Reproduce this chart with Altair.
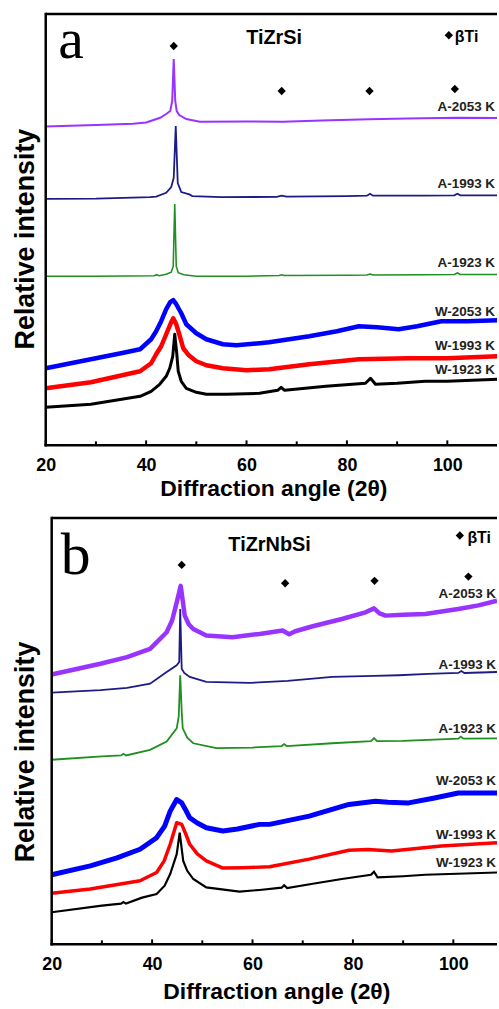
import altair as alt
import pandas as pd

SANS = "Liberation Sans"
SERIF = "Liberation Serif"

# ---------------- Panel (a): TiZrSi ----------------
a_A2053_x = [20, 30, 37.4, 40, 42.8, 44, 44.8, 45.2, 45.5, 45.8, 46.1, 46.6, 48, 50.7, 60, 67.2, 75, 84.4, 92, 102.2, 110]
a_A2053_y = [318.5, 320, 321.3, 322.5, 327.3, 331, 334, 344, 386, 344, 334, 330, 326, 323.3, 323.5, 323.3, 324.5, 325.7, 326.5, 327.3, 327]

a_A1993_x = [20, 30, 40.8, 42, 44, 45, 45.5, 45.9, 46.3, 47, 48.6, 49.2, 55, 66, 67, 68, 80, 84, 84.6, 85.2, 95, 101.4, 102, 102.6, 110]
a_A1993_y = [246.3, 246.5, 248, 248.5, 252.3, 258, 267.3, 319, 262, 253, 250.7, 249, 248, 248.2, 249.4, 248.4, 249, 249.4, 251.3, 249.4, 249.5, 249.7, 251.3, 249.7, 249.7]

a_A1923_x = [20, 30, 41.6, 42.1, 42.6, 44, 45, 45.4, 45.7, 46.0, 46.4, 47.5, 50, 60, 66.5, 67, 67.5, 80, 84, 84.6, 85.2, 95, 101.4, 102, 102.6, 110]
a_A1923_y = [169, 169, 169.5, 170.5, 169.5, 171, 173, 179, 241, 179, 172.5, 170.5, 169, 169, 169.7, 170.4, 169.7, 170, 170.2, 171.2, 170.2, 170.5, 170.7, 172.2, 170.7, 170.7]

a_W2053_x = [20, 29, 35, 38.8, 41, 42, 43, 44, 44.8, 45.4, 46, 47, 48, 50, 52, 55.3, 58, 62.6, 64.5, 72.5, 78, 82.4, 86, 90.3, 94, 98.8, 104, 110]
a_W2053_y = [77, 86, 92, 96, 106, 114, 124, 136, 143, 145, 141, 132, 121, 112, 106, 101, 100, 102, 103, 109, 114, 119, 118, 116, 119, 124, 124, 125]

a_W1993_x = [20, 29, 38.8, 41, 42, 43, 44, 45, 45.4, 46, 46.6, 47.4, 48.5, 50, 52, 55.3, 60, 64.5, 72.5, 82.4, 92.3, 100, 110]
a_W1993_y = [57, 63, 74, 82, 91, 99, 111, 123, 127, 121, 111, 97, 90, 84, 80, 77, 75, 76, 81, 86, 87, 87, 89]

a_W1923_x = [20, 29, 38.8, 41, 42.7, 44, 44.7, 45.3, 45.7, 46.1, 46.4, 47, 48, 50, 52, 56, 62.6, 66.2, 66.9, 67.6, 75.8, 83.7, 84.7, 85.7, 90, 95.6, 100, 110]
a_W1923_y = [38, 41, 49, 54, 61, 69, 77, 89, 111, 92, 74, 64, 57, 53, 51, 51, 52, 55, 58, 55, 59, 62, 67, 61, 62, 64, 64, 66]

a_label_text = ["A-2053 K", "A-1993 K", "A-1923 K", "W-2053 K", "W-1993 K", "W-1923 K"]
a_label_y = [338, 261, 182, 133, 99, 75]
a_peak_x = [45.5, 67, 84.5, 101.5]
a_peak_y = [399, 354, 354, 356]

# ---------------- Panel (b): TiZrNbSi ----------------
b_A2053_x = [20, 29.7, 35, 39.6, 42.9, 44, 44.9, 45.7, 46.5, 47.3, 48.2, 50.8, 56, 61.4, 66, 67.3, 68.5, 72, 77.8, 82.5, 84.2, 85.3, 86.5, 90, 94.4, 101, 105, 108.7]
b_A2053_y = [271.5, 282.3, 289, 297.3, 314, 326, 344, 360.7, 330.7, 322, 317.3, 310.7, 309, 312.3, 315.7, 312, 315, 320, 327.3, 334, 338, 333, 330.7, 331.5, 332.3, 337.3, 341, 345.7]

b_A1993_x = [20, 29.7, 35, 39.6, 42.9, 44.9, 45.4, 45.6, 45.9, 46.4, 47.5, 50.8, 59.4, 67, 75.9, 84.2, 89.1, 95, 101, 101.6, 102.2, 108.7]
b_A1993_y = [253.3, 255.7, 258, 262.3, 274, 280.7, 284, 337.3, 277.3, 273, 269, 264, 263, 265, 269, 270, 270.7, 272, 273, 275, 273, 274]

b_A1923_x = [20, 30, 33.8, 34.3, 34.8, 39.6, 42.9, 44.9, 45.3, 45.6, 45.9, 46.1, 47, 48.2, 52.8, 60, 65.8, 66.3, 66.8, 75.9, 83.6, 84.2, 84.8, 90, 101, 101.5, 102, 108.7]
b_A1923_y = [185.7, 189, 190, 191.7, 190, 195.7, 204, 217.3, 229, 270.7, 234, 217.3, 208, 202.3, 197.3, 198, 199.5, 201.5, 199.5, 202.3, 204.5, 207.5, 204.5, 204.7, 207, 209, 207, 207.3]

b_W2053_x = [20, 27.7, 33, 37.6, 40.9, 42.5, 43.6, 44.9, 45.9, 46.6, 47.5, 49, 50.8, 54.1, 57, 61.4, 63.4, 71.3, 79.2, 84.5, 87, 91.1, 96, 101, 108.7]
b_W2053_y = [70, 79, 87, 95.7, 107.3, 119, 134, 145.7, 142.3, 136, 127.3, 122, 117.3, 114, 116, 120.7, 120.7, 129, 140.7, 144, 143, 142.3, 147, 152.3, 152.3]

b_W1993_x = [20, 27.7, 37.6, 40.9, 42.4, 43.6, 44.9, 45.9, 46.7, 47.5, 49, 50.8, 54.1, 58, 63.4, 71.3, 79.2, 83, 87.7, 97.6, 108.7]
b_W1993_y = [51.3, 55.7, 64, 72.3, 84, 100.7, 122.3, 120.7, 111, 100.7, 91, 84, 76.7, 77, 78, 85.7, 94.7, 95.5, 94, 99, 102.3]

b_W1923_x = [20, 30, 33.8, 34.3, 34.8, 38, 40.9, 42.5, 43.6, 44.9, 45.5, 46.2, 47, 48.2, 50.8, 57.4, 61.4, 65.8, 66.3, 66.9, 72, 77.8, 83.6, 84.2, 84.9, 90, 94.4, 108.7]
b_W1923_y = [32.3, 39, 41, 42.5, 41, 47, 50.7, 59, 70.7, 90.7, 112.3, 84, 74, 65.7, 57.3, 53, 54.7, 57, 59.5, 56.7, 61, 65.7, 70, 73, 67.3, 68.5, 70, 72.3]

b_label_text = ["A-2053 K", "A-1993 K", "A-1923 K", "W-2053 K", "W-1993 K", "W-1923 K"]
b_label_y = [352, 281, 217, 164, 110, 82]
b_peak_x = [45.9, 66.5, 84.3, 103]
b_peak_y = [381.7, 363.3, 365.7, 370]

# colours per curve
COLORS = {"A-2053": "#9933ff", "A-1993": "#1c1c84", "A-1923": "#1f8f1f",
          "W-2053": "#0000ff", "W-1993": "#ff0000", "W-1923": "#000000"}

MAJOR_TICKS = [20, 40, 60, 80, 100]
MINOR_TICKS = [30, 50, 70, 90]
WIDTH = 454


def panel(curves, widths, label_text, label_y, label_x, peak_x, peak_y,
          name, name_xy, letter, letter_size, letter_xy, key_xy, text_xy,
          xmax, inset, ymax, height, ytitle_y, xtitle_pad):
    # the plotting frame starts `inset` pixels right of the view origin
    xs = alt.Scale(domain=[20, xmax], range=[inset, WIDTH], nice=False, zero=False)
    ys = alt.Scale(domain=[0, ymax], nice=False, zero=False)

    x_axis = alt.Axis(title="Diffraction angle (2θ)", values=MAJOR_TICKS, format="d",
                      ticks=False, grid=False, domain=False,
                      labelFont=SANS, labelFontSize=18, labelFontWeight="bold",
                      labelColor="black", labelPadding=11, labelFlush=False,
                      titleFont=SANS, titleFontSize=23, titleFontWeight="bold",
                      titleColor="black", titlePadding=xtitle_pad,
                      titleX=inset + (WIDTH - inset) / 2 + 2)
    y_axis = alt.Axis(title="Relative intensity", labels=False, ticks=False, grid=False,
                      domain=False,
                      titleFont=SANS, titleFontSize=27, titleFontWeight="bold",
                      titleColor="black", titlePadding=6, titleY=ytitle_y)

    def X(field):
        return alt.X(field, scale=xs, axis=x_axis)

    def Y(field):
        return alt.Y(field, scale=ys, axis=y_axis)

    layers = []
    for key, (cx, cy) in curves.items():
        df = pd.DataFrame({"x": cx, "y": cy})
        layers.append(
            alt.Chart(df).mark_line(color=COLORS[key], strokeWidth=widths[key], clip=True,
                                    strokeJoin="round" if widths[key] > 2.5 else "miter")
            .encode(x=X("x:Q"), y=Y("y:Q"))
        )

    # frame: top, left and bottom lines
    frame = pd.DataFrame({"k": [0]})
    layers.append(
        alt.Chart(frame).mark_rule(color="black", strokeWidth=2.5)
        .encode(x=alt.value(inset), x2=alt.value(WIDTH), y=alt.value(0))
    )
    layers.append(
        alt.Chart(frame).mark_rule(color="black", strokeWidth=2.5)
        .encode(x=alt.value(inset - 1.2), x2=alt.value(WIDTH), y=alt.value(height))
    )
    layers.append(
        alt.Chart(frame).mark_rule(color="black", strokeWidth=2.5)
        .encode(x=alt.value(inset), y=alt.value(-1.2), y2=alt.value(height + 1.2))
    )
    # inward ticks on the bottom axis
    major = pd.DataFrame({"x": MAJOR_TICKS})
    minor = pd.DataFrame({"x": MINOR_TICKS})
    layers.append(
        alt.Chart(major).mark_rule(color="black", strokeWidth=2)
        .encode(x=X("x:Q"), y=alt.value(height), y2=alt.value(height - 5))
    )
    layers.append(
        alt.Chart(minor).mark_rule(color="black", strokeWidth=2)
        .encode(x=X("x:Q"), y=alt.value(height), y2=alt.value(height - 4))
    )
    # curve labels
    labels = pd.DataFrame({"x": [label_x] * len(label_text), "y": label_y, "text": label_text})
    layers.append(
        alt.Chart(labels).mark_text(align="right", baseline="middle", font=SANS, fontSize=13.5,
                                    fontWeight="bold", color="#222222", clip=True)
        .encode(x=X("x:Q"), y=Y("y:Q"), text="text:N")
    )
    # beta-Ti reflections and key symbol
    peaks = pd.DataFrame({"x": peak_x + [key_xy[0]], "y": peak_y + [key_xy[1]]})
    layers.append(
        alt.Chart(peaks).mark_point(shape="diamond", filled=True, color="black", size=70, opacity=1)
        .encode(x=X("x:Q"), y=Y("y:Q"))
    )
    key_text = pd.DataFrame({"x": [text_xy[0]], "y": [text_xy[1]], "text": ["βTi"]})
    layers.append(
        alt.Chart(key_text).mark_text(align="left", baseline="alphabetic", font=SANS, fontSize=16,
                                      fontWeight="bold", color="black", clip=True)
        .encode(x=X("x:Q"), y=Y("y:Q"), text="text:N")
    )
    # alloy name
    name_df = pd.DataFrame({"x": [name_xy[0]], "y": [name_xy[1]], "text": [name]})
    layers.append(
        alt.Chart(name_df).mark_text(align="center", baseline="alphabetic", font=SANS, fontSize=20,
                                     fontWeight="bold", color="black", clip=True)
        .encode(x=X("x:Q"), y=Y("y:Q"), text="text:N")
    )
    # panel letter
    letter_df = pd.DataFrame({"x": [letter_xy[0]], "y": [letter_xy[1]], "text": [letter]})
    layers.append(
        alt.Chart(letter_df).mark_text(align="left", baseline="alphabetic", font=SERIF,
                                       fontSize=letter_size, color="black", clip=True)
        .encode(x=X("x:Q"), y=Y("y:Q"), text="text:N")
    )
    return alt.layer(*layers).properties(width=WIDTH, height=height)


curves_a = {
    "A-2053": (a_A2053_x, a_A2053_y), "A-1993": (a_A1993_x, a_A1993_y), "A-1923": (a_A1923_x, a_A1923_y),
    "W-2053": (a_W2053_x, a_W2053_y), "W-1993": (a_W1993_x, a_W1993_y), "W-1923": (a_W1923_x, a_W1923_y),
}
widths_a = {"A-2053": 2, "A-1993": 1.8, "A-1923": 1.6, "W-2053": 4.5, "W-1993": 4.5, "W-1923": 3}

curves_b = {
    "A-2053": (b_A2053_x, b_A2053_y), "A-1993": (b_A1993_x, b_A1993_y), "A-1923": (b_A1923_x, b_A1923_y),
    "W-2053": (b_W2053_x, b_W2053_y), "W-1993": (b_W1993_x, b_W1993_y), "W-1923": (b_W1923_x, b_W1923_y),
}
widths_b = {"A-2053": 4.5, "A-1993": 1.8, "A-1923": 1.8, "W-2053": 5, "W-1993": 3.5, "W-1923": 2.2}

panel_a = panel(curves_a, widths_a, a_label_text, a_label_y, 109.5, a_peak_x, a_peak_y,
                "TiZrSi", (65.5, 401.3), "a", 58, (22.5, 387.3), (100.3, 409.7), (101.5, 403),
                xmax=109.9, inset=0, ymax=431, height=434, ytitle_y=226, xtitle_pad=3)

panel_b = panel(curves_b, widths_b, b_label_text, b_label_y, 108.5, b_peak_x, b_peak_y,
                "TiZrNbSi", (63.4, 395.7), "b", 60, (21.8, 372.3), (101.3, 411.3), (102.8, 404),
                xmax=108.7, inset=6, ymax=429, height=429, ytitle_y=235, xtitle_pad=7)

chart = alt.vconcat(panel_a, panel_b, spacing=15).properties(
    padding={"left": 12, "top": 8, "right": 0, "bottom": 0},
    background="white",
).configure_view(stroke=None)

chart.save("out.html", embed_options={"renderer": "svg", "actions": False})
